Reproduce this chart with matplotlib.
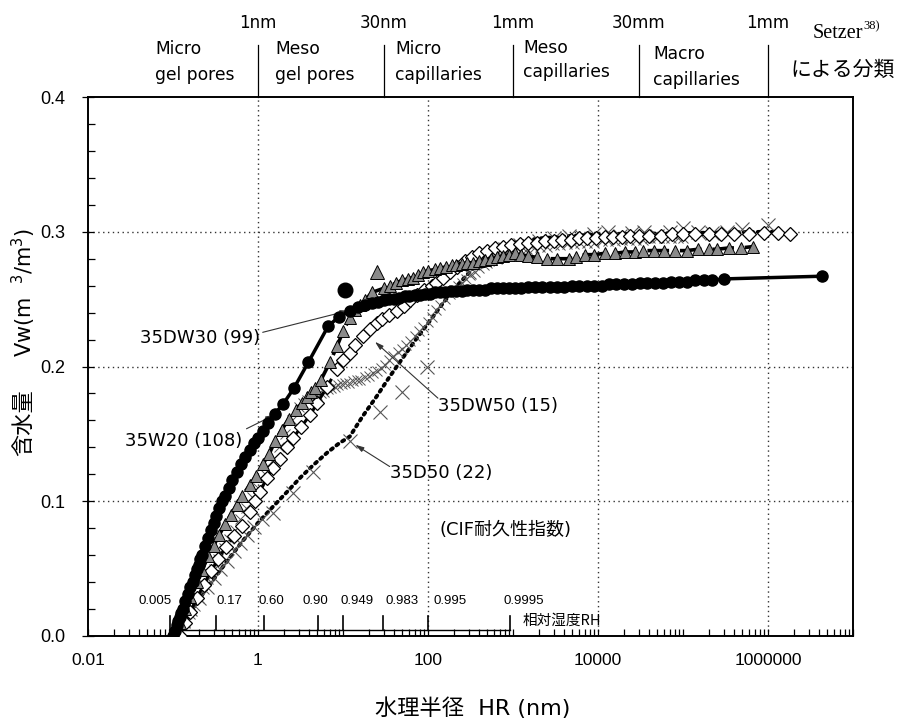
import matplotlib
matplotlib.use("Agg")
import matplotlib.pyplot as plt
from matplotlib.ticker import LogLocator, MultipleLocator, NullFormatter

plt.rcParams['font.family'] = ['Noto Sans CJK JP', 'DejaVu Sans']
plt.rcParams['xtick.direction'] = 'in'
plt.rcParams['ytick.direction'] = 'in'
LAT = ['DejaVu Sans', 'Noto Sans CJK JP']

# ---------------- data ----------------
# 35W20 (108): filled circles, solid line
hr_w20 = [0.10, 0.105, 0.11, 0.115, 0.12, 0.125, 0.13, 0.14, 0.15, 0.16, 0.17, 0.18, 0.19, 0.20,
          0.21, 0.22, 0.24, 0.26, 0.28, 0.30, 0.32, 0.35, 0.38, 0.41, 0.45, 0.50, 0.56, 0.63, 0.71,
          0.80, 0.90, 1.0, 1.13, 1.3, 1.58, 1.97, 2.65, 3.9, 6.7, 9, 12, 15, 18, 22, 26, 30, 35, 40,
          46, 53, 60, 70, 80, 92, 105, 120, 140, 160, 185, 215, 250, 290, 340, 400, 470, 550, 650,
          760, 900, 1050, 1250, 1500, 1800, 2200, 2700, 3300, 4000, 5000, 6000, 7500, 9000, 11000,
          13500, 16500, 20000, 25000, 31000, 38000, 47000, 58000, 72000, 90000, 110000, 140000,
          175000, 220000, 300000, 4300000]
vw_w20 = [0.000, 0.004, 0.008, 0.011, 0.014, 0.017, 0.020, 0.026, 0.031, 0.036, 0.040, 0.045, 0.050,
          0.053, 0.057, 0.060, 0.067, 0.073, 0.079, 0.084, 0.089, 0.095, 0.100, 0.104, 0.110, 0.116,
          0.122, 0.128, 0.133, 0.138, 0.143, 0.147, 0.152, 0.158, 0.165, 0.172, 0.184, 0.203, 0.230,
          0.237, 0.241, 0.244, 0.246, 0.247, 0.248, 0.249, 0.250, 0.250, 0.251, 0.252, 0.252, 0.253,
          0.253, 0.254, 0.254, 0.255, 0.255, 0.255, 0.256, 0.256, 0.256, 0.257, 0.257, 0.257, 0.257,
          0.258, 0.258, 0.258, 0.258, 0.258, 0.258, 0.259, 0.259, 0.259, 0.259, 0.259, 0.259, 0.260,
          0.260, 0.260, 0.260, 0.260, 0.261, 0.261, 0.261, 0.261, 0.262, 0.262, 0.262, 0.262, 0.263,
          0.263, 0.263, 0.264, 0.264, 0.264, 0.265, 0.267]
hr_w20_out = [10.5]
vw_w20_out = [0.257]

# 35DW30 (99): grey triangles, long-dash line
hr_dw30 = [0.10, 0.12, 0.14, 0.16, 0.19, 0.22, 0.26, 0.30, 0.35, 0.41, 0.48, 0.56, 0.65, 0.80, 0.95,
           1.15, 1.35, 1.6, 1.9, 2.3, 2.8, 3.3, 3.8, 4.2, 4.7, 5.5, 7.0, 8.5, 10, 12, 14, 16, 18, 22,
           30, 36, 42, 50, 58, 66, 76, 88, 100, 120, 140, 165, 190, 216, 250, 290, 340, 400, 470,
           550, 650, 770, 900, 1050, 1250, 1500, 1900, 2500, 3300, 4500, 5500, 7000, 9000, 12000,
           16000, 21000, 27000, 34000, 45000, 60000, 80000, 110000, 150000, 200000, 250000, 350000,
           480000, 670000]
vw_dw30 = [0.000, 0.010, 0.020, 0.029, 0.040, 0.049, 0.059, 0.067, 0.075, 0.083, 0.090, 0.097, 0.104,
           0.112, 0.119, 0.128, 0.135, 0.145, 0.153, 0.161, 0.168, 0.173, 0.177, 0.181, 0.184, 0.190,
           0.203, 0.215, 0.226, 0.236, 0.242, 0.246, 0.249, 0.255, 0.258, 0.260, 0.262, 0.264, 0.265,
           0.266, 0.268, 0.270, 0.271, 0.272, 0.273, 0.274, 0.275, 0.275, 0.276, 0.277, 0.277, 0.278,
           0.279, 0.280, 0.281, 0.282, 0.283, 0.284, 0.283, 0.282, 0.281, 0.280, 0.280, 0.280, 0.281,
           0.283, 0.283, 0.284, 0.284, 0.285, 0.285, 0.286, 0.286, 0.286, 0.286, 0.286, 0.287, 0.287,
           0.287, 0.288, 0.288, 0.289]
hr_dw30_out = [25]
vw_dw30_out = [0.270]

# 35DW50 (15): open diamonds, dashed line
hr_dw50 = [0.12, 0.14, 0.16, 0.19, 0.23, 0.28, 0.34, 0.42, 0.52, 0.65, 0.80, 0.92, 1.05, 1.27, 1.5,
           1.8, 2.2, 2.6, 3.2, 4.1, 5.0, 6.5, 8.5, 10, 12, 14, 17, 21, 25, 29, 35, 43, 52, 62, 75, 90,
           110, 125, 150, 180, 220, 270, 330, 400, 500, 620, 770, 950, 1200, 1500, 1900, 2400, 3000,
           3800, 4800, 6000, 7500, 9500, 12000, 15000, 19000, 24000, 30000, 40000, 55000, 75000,
           100000, 140000, 200000, 280000, 400000, 600000, 900000, 1300000, 1800000]
vw_dw50 = [0.000, 0.010, 0.018, 0.028, 0.038, 0.048, 0.057, 0.066, 0.074, 0.082, 0.092, 0.100, 0.107,
           0.117, 0.125, 0.131, 0.140, 0.147, 0.155, 0.164, 0.173, 0.185, 0.198, 0.205, 0.210, 0.216,
           0.223, 0.228, 0.232, 0.235, 0.238, 0.241, 0.245, 0.249, 0.253, 0.257, 0.260, 0.262, 0.266,
           0.270, 0.274, 0.278, 0.281, 0.284, 0.286, 0.288, 0.289, 0.290, 0.291, 0.292, 0.292, 0.293,
           0.293, 0.294, 0.294, 0.295, 0.295, 0.295, 0.296, 0.296, 0.296, 0.297, 0.297, 0.297, 0.297,
           0.298, 0.298, 0.298, 0.298, 0.298, 0.298, 0.298, 0.299, 0.299, 0.298]

# 35D50 (22): crosses with dotted fitted curve
hr_d50_fit = [0.1, 0.15, 0.2, 0.3, 0.45, 0.67, 1.0, 1.5, 2.2, 3.2, 4.5, 6.5, 9, 12, 17, 25, 35, 50,
              70, 100, 150, 220, 330, 500, 750, 1000, 2000, 5000, 10000, 100000, 1000000, 1500000]
vw_d50_fit = [0.000, 0.015, 0.027, 0.042, 0.057, 0.071, 0.084, 0.096, 0.107, 0.118, 0.127, 0.136,
              0.143, 0.148, 0.163, 0.178, 0.192, 0.206, 0.219, 0.232, 0.247, 0.260, 0.272, 0.282,
              0.289, 0.292, 0.295, 0.297, 0.298, 0.299, 0.300, 0.300]
hr_d50 = [0.13, 0.16, 0.2, 0.25, 0.3, 0.36, 0.43, 0.52, 0.62, 0.75, 0.9, 1.1, 1.5, 2.6, 4.4, 12, 27,
          50, 98, 300, 500, 800, 1200, 2000, 3000, 4500, 6500, 9000, 13000, 18000, 25000, 35000,
          50000, 70000, 100000, 150000, 220000, 330000, 500000, 1000000]
vw_d50 = [0.012, 0.020, 0.028, 0.036, 0.043, 0.050, 0.056, 0.063, 0.069, 0.075, 0.081, 0.087, 0.091,
          0.106, 0.122, 0.145, 0.166, 0.181, 0.200, 0.270, 0.280, 0.287, 0.290, 0.293, 0.295, 0.297,
          0.296, 0.298, 0.300, 0.297, 0.299, 0.300, 0.297, 0.300, 0.303, 0.300, 0.299, 0.300, 0.302,
          0.305]

# small thin crosses (dense hatched band)
hr_sx = [0.12, 0.14, 0.16, 0.18, 0.2, 0.23, 0.26, 0.3, 0.34, 0.4, 0.46, 0.53, 0.62, 0.72, 0.85, 1.0,
         1.2, 1.45, 1.75, 2.1, 2.5, 3.0, 3.4, 3.8, 4.2, 4.6, 5.0, 5.5, 6.0, 6.6, 7.2, 8.0, 8.8, 9.7,
         10.7, 11.8, 13, 14.5, 16, 18, 20, 22.5, 25, 28, 31, 35, 39, 44, 49, 55, 62, 70, 78, 88, 100,
         112, 125, 140, 160, 180, 200, 225, 250, 280, 315, 355, 400, 450, 500, 570, 650, 740, 850,
         1000, 1200, 1450, 1750, 2100, 2500, 3000, 3600, 4300, 5200, 6200, 7500, 9000, 11000, 13000,
         16000, 19000, 23000, 28000, 34000, 41000, 50000, 60000, 72000, 87000, 100000]
vw_sx = [0.003, 0.010, 0.016, 0.022, 0.028, 0.035, 0.042, 0.050, 0.057, 0.065, 0.072, 0.079, 0.087,
         0.095, 0.103, 0.110, 0.120, 0.130, 0.140, 0.150, 0.160, 0.170, 0.173, 0.175, 0.177, 0.178,
         0.179, 0.180, 0.181, 0.183, 0.184, 0.185, 0.186, 0.187, 0.188, 0.188, 0.189, 0.190, 0.190,
         0.192, 0.193, 0.195, 0.197, 0.199, 0.201, 0.205, 0.208, 0.211, 0.213, 0.216, 0.219, 0.223,
         0.226, 0.229, 0.233, 0.237, 0.242, 0.246, 0.250, 0.254, 0.257, 0.260, 0.262, 0.265, 0.268,
         0.270, 0.273, 0.275, 0.277, 0.279, 0.280, 0.282, 0.283, 0.285, 0.286, 0.287, 0.288, 0.289,
         0.289, 0.290, 0.290, 0.291, 0.291, 0.292, 0.292, 0.292, 0.293, 0.293, 0.293, 0.294, 0.294,
         0.294, 0.294, 0.295, 0.295, 0.295, 0.295, 0.295, 0.295]

# axis ticks
xtick_vals = [0.01, 0.1, 1, 10, 100, 1000, 10000, 100000, 1000000, 10000000]
xtick_labels = ['0.01', '', '1', '', '100', '', '10000', '', '1000000', '']
ytick_vals = [0.0, 0.1, 0.2, 0.3, 0.4]
ytick_labels = ['0.0', '0.1', '0.2', '0.3', '0.4']

# relative humidity scale
rh_labels = ['0.005', '0.17', '0.60', '0.90', '0.949', '0.983', '0.995', '0.9995']
rh_hr = [0.092, 0.32, 1.17, 5.1, 10, 29.5, 100, 920]

# Setzer classification
setzer_bounds = [1, 30, 1000, 30000, 1000000]
setzer_bound_labels = ['1nm', '30nm', '1mm', '30mm', '1mm']
setzer_classes = [('Micro', 'gel pores'), ('Meso', 'gel pores'), ('Micro', 'capillaries'),
                  ('Meso', 'capillaries'), ('Macro', 'capillaries')]

# ---------------- figure ----------------
W, H = 904, 722
fig = plt.figure(figsize=(W / 100, H / 100), dpi=100)
L, R, T, B = 88, 853, 97, 636
ax = fig.add_axes([L / W, 1 - B / H, (R - L) / W, (B - T) / H])
ax.set_xscale('log')
ax.set_xlim(0.01, 1e7)
ax.set_ylim(0, 0.4)

def yfrac(py):
    return (B - py) / (B - T)

def xfrac(px):
    return (px - L) / (R - L)

for s in ax.spines.values():
    s.set_linewidth(1.4)

# grid
for gx in [1, 100, 10000, 1000000]:
    ax.axvline(gx, color='#333333', ls=(0, (1, 2.5)), lw=1.0, zorder=0)
for gy in [0.1, 0.2, 0.3]:
    ax.axhline(gy, color='#333333', ls=(0, (1, 2.5)), lw=1.0, zorder=0)

# series
ax.plot(hr_d50_fit, vw_d50_fit, ls=(0, (0.6, 1.2)), color='black', lw=2.8, zorder=2,
        dash_capstyle='round')
ax.plot(hr_sx, vw_sx, ls='none', marker='x', ms=7, mew=0.7, color='#555555', zorder=3)
ax.plot(hr_d50, vw_d50, ls='none', marker='x', ms=10, mew=0.8, color='#555555', zorder=3)
ax.plot(hr_dw50, vw_dw50, ls=(0, (3, 2)), lw=2.2, color='black', marker='D', ms=7,
        mfc='white', mec='black', mew=0.9, zorder=4)
ax.plot(hr_dw30, vw_dw30, ls=(0, (6, 3)), lw=2.6, color='black', marker='^', ms=9,
        mfc='#8a8a8a', mec='black', mew=0.7, zorder=5)
ax.plot(hr_dw30_out, vw_dw30_out, ls='none', marker='^', ms=10, mfc='#8a8a8a', mec='black',
        mew=0.7, zorder=5)
ax.plot(hr_w20, vw_w20, ls='-', lw=2.5, color='black', marker='o', ms=8, zorder=6)
ax.plot(hr_w20_out, vw_w20_out, ls='none', color='black', marker='o', ms=10.5, zorder=6)

# ticks
ax.set_xticks(xtick_vals)
ax.set_xticklabels(xtick_labels)
ax.xaxis.set_minor_locator(LogLocator(base=10, subs=[2, 3, 4, 5, 6, 7, 8, 9], numticks=20))
ax.xaxis.set_minor_formatter(NullFormatter())
ax.tick_params(axis='x', which='both', direction='in', length=5, width=0.9, pad=12,
               labelsize=12.5, labelfontfamily='Liberation Sans')
ax.set_yticks(ytick_vals)
ax.set_yticklabels(ytick_labels)
ax.yaxis.set_minor_locator(MultipleLocator(0.02))
ax.tick_params(axis='y', which='both', direction='in', length=5, width=0.9, left=True, right=False)
ax.tick_params(axis='y', which='major', direction='inout', length=9, pad=12,
               labelsize=13, labelfontfamily='Liberation Sans')

# RH scale
y_line, y_tick = 0.0045, 0.0145
ax.plot([rh_hr[0], rh_hr[-1]], [y_line, y_line], color='black', lw=1.0, zorder=1)
rh_offsets = [-15, 13, 8, -3, 14, 19, 22, 14]
for v, lab, off in zip(rh_hr, rh_labels, rh_offsets):
    ax.plot([v, v], [y_line, y_tick], color='black', lw=1.2, zorder=1)
    ax.annotate(lab, xy=(v, 0.026), xytext=(off * 0.72, 0), textcoords='offset points',
                ha='center', va='center', fontsize=9.5, family='Liberation Sans')
ax.text(1312, 0.011, '相対湿度RH', fontsize=10.5, ha='left', va='center')

# Setzer classification above the plot
xt = ax.get_xaxis_transform()
for b, lab in zip(setzer_bounds, setzer_bound_labels):
    ax.plot([b, b], [1.0, yfrac(45)], transform=xt, clip_on=False, color='black', lw=0.9)
    ax.text(b, yfrac(23), lab, transform=xt, ha='center', va='center', fontsize=12, family=LAT)
class_pos = [(155, 49, 75), (275, 49, 75), (395, 49, 75), (523, 48, 72), (653, 54, 80)]
for (l1, l2), (px, py1, py2) in zip(setzer_classes, class_pos):
    ax.text(xfrac(px), yfrac(py1), l1, transform=ax.transAxes, ha='left', va='center',
            fontsize=12.3, family=LAT)
    ax.text(xfrac(px), yfrac(py2), l2, transform=ax.transAxes, ha='left', va='center',
            fontsize=12.3, family=LAT)
fig.text(838 / W, 1 - 33 / H, 'Setzer', family='Liberation Serif', fontsize=14.5,
         ha='center', va='center')
fig.text(863 / W, 1 - 26 / H, '38)', family='Liberation Serif', fontsize=9,
         ha='left', va='center')
fig.text(843 / W, 1 - 70 / H, 'による分類', fontsize=15, ha='center', va='center')

# curve annotations
def fp(px, py):
    return (px, H - py)

ann = dict(arrowstyle='-|>,head_length=0.5,head_width=0.15', lw=0.8, color='#333333')
ax.annotate('', xy=(12.6, 0.242), xytext=fp(260, 333), textcoords='figure pixels', arrowprops=ann)
ax.annotate('', xy=(1.67, 0.165), xytext=fp(244, 430), textcoords='figure pixels', arrowprops=ann)
ax.annotate('', xy=(22.5, 0.2197), xytext=fp(440, 400), textcoords='figure pixels', arrowprops=ann)
ax.annotate('', xy=(13.1, 0.143), xytext=fp(392, 468), textcoords='figure pixels', arrowprops=ann)
fig.text(260 / W, 1 - 338 / H, '35DW30 (99)', fontsize=13, family=LAT, ha='right', va='center')
fig.text(242 / W, 1 - 441 / H, '35W20 (108)', fontsize=13, family=LAT, ha='right', va='center')
fig.text(438 / W, 1 - 406 / H, '35DW50 (15)', fontsize=13, family=LAT, ha='left', va='center')
fig.text(390 / W, 1 - 473 / H, '35D50 (22)', fontsize=13, family=LAT, ha='left', va='center')
fig.text(440 / W, 1 - 530 / H, '(CIF耐久性指数)', fontsize=13, family=LAT, ha='left', va='center')

# axis labels (CJK part and Latin part drawn separately)
fig.text(24 / W, 1 - 423 / H, '含水量', rotation=90, fontsize=16,
         family='Noto Sans CJK JP', ha='center', va='center')
fig.text(24 / W, 1 - 292 / H, 'Vw(m  $^{3}$/m$^{3}$)', rotation=90, fontsize=15,
         family='DejaVu Sans', ha='center', va='center')
fig.text(473 / W, 1 - 708 / H, '水理半径  HR (nm)', fontsize=16, family=LAT,
         ha='center', va='center')

fig.savefig('out.png', dpi=100)
